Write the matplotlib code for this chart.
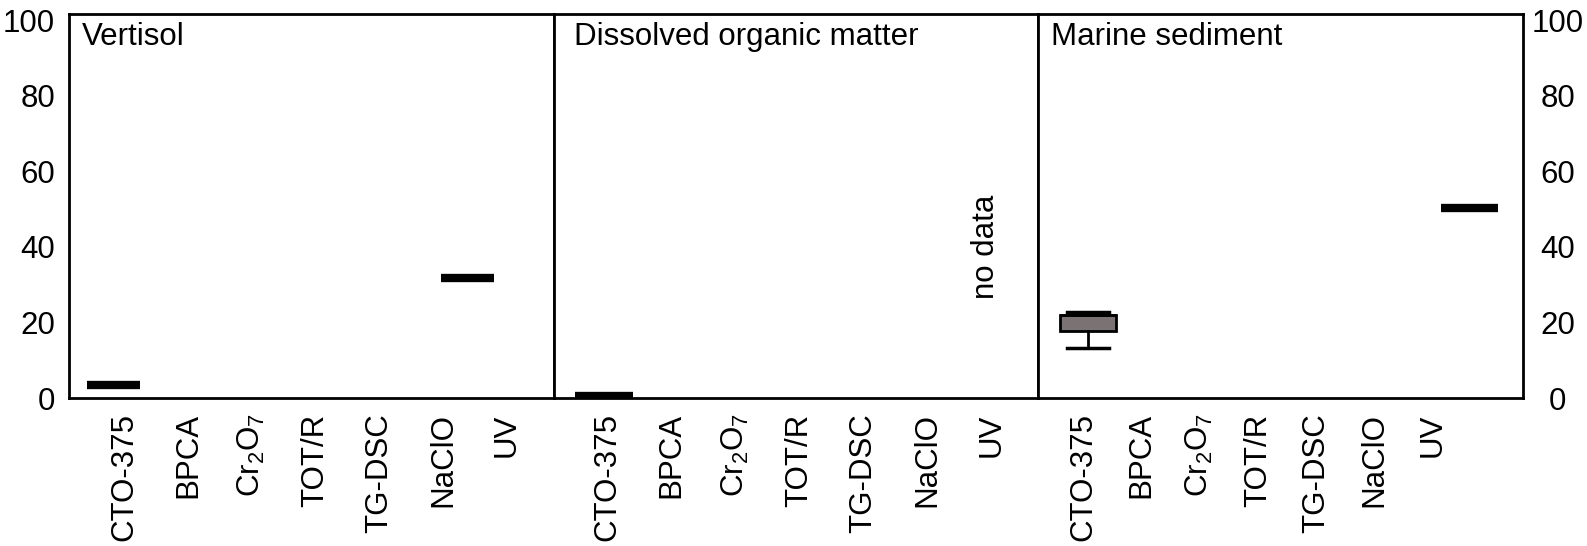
import numpy as np
import matplotlib
matplotlib.use('Agg')
import matplotlib.pyplot as plt

# data (percent)
methods = ['CTO-375', 'BPCA', r'Cr$_2$O$_7$', 'TOT/R', 'TG-DSC', 'NaClO', 'UV']
panels = ['Vertisol', 'Dissolved organic matter', 'Marine sediment']

vertisol = {'CTO-375': 3.4, 'UV': 31.7}
dom = {'CTO-375': 0.4}
marine_uv = 50.3
# marine CTO-375 given as a box: whisker low, q1, median, q3, whisker high
marine_cto_box = [13.2, 17.7, 22.0, 22.0, 22.7]
no_data = {'Dissolved organic matter': 'UV'}

plt.rcParams['font.family'] = ['Liberation Sans', 'DejaVu Sans']
plt.rcParams['mathtext.fontset'] = 'custom'
plt.rcParams['mathtext.rm'] = 'Liberation Sans'
plt.rcParams['mathtext.it'] = 'Liberation Sans'

fs = 22.5

# per panel layout: x limits, first tick position, tick step, title x
layout = [
    dict(xlim=(-0.76, 7.47), t0=0.18, step=1.082, tx=0.027),
    dict(xlim=(-0.79, 6.83), t0=0.05, step=1.007, tx=0.041),
    dict(xlim=(-0.78, 6.84), t0=-0.07, step=0.915, tx=0.027),
]


def main():
    fig, axes = plt.subplots(1, 3, figsize=(15.87, 5.46), dpi=100, sharey=True)
    fig.subplots_adjust(left=69/1587, right=1523/1587, top=1-14/546, bottom=1-398/546, wspace=0)

    xpos = {m: i for i, m in enumerate(methods)}
    series = [vertisol, dom, {'UV': marine_uv}]

    for ax, name, vals, lay in zip(axes, panels, series, layout):
        w = 0.9
        for m, v in vals.items():
            x = xpos[m]
            ax.hlines(v, x - w/2, x + w/2, color='black', lw=6)
        ax.set_xlim(*lay['xlim'])
        ax.set_ylim(0, 101.6)
        ticks = lay['t0'] + lay['step'] * np.arange(len(methods))
        ax.set_xticks(ticks)
        ax.set_xticklabels(methods, rotation=90, fontsize=fs)
        ax.tick_params(axis='x', length=0, pad=11)
        ax.tick_params(axis='y', length=0)
        for s in ax.spines.values():
            s.set_linewidth(2)
        ax.text(lay['tx'], 0.978, name, transform=ax.transAxes, fontsize=fs,
                ha='left', va='top')
        if name in no_data:
            ax.text(xpos[no_data[name]], 40, 'no data', rotation=90, fontsize=fs,
                    ha='center', va='center')

    # marine sediment CTO-375 box
    lo, q1, med, q3, hi = marine_cto_box
    stats = [dict(whislo=lo, q1=q1, med=med, q3=q3, whishi=hi)]
    axes[2].bxp(stats, positions=[xpos['CTO-375']], widths=0.87, patch_artist=True,
                showfliers=False, manage_ticks=False,
                boxprops=dict(facecolor='#7b7373', edgecolor='black', linewidth=2),
                whiskerprops=dict(color='black', linewidth=2),
                capprops=dict(color='black', linewidth=2.5),
                medianprops=dict(color='black', linewidth=2), capwidths=0.65)

    # y labels left on first panel, right on last
    axes[0].set_yticks([0, 20, 40, 60, 80, 100])
    axes[0].tick_params(axis='y', labelsize=fs, pad=10)
    axes[1].tick_params(axis='y', labelleft=False)
    axes[2].tick_params(axis='y', labelleft=False, labelright=True, labelsize=fs, pad=25)
    for lab in axes[2].get_yticklabels():
        lab.set_horizontalalignment('center')

    plt.savefig('out.png', dpi=100)


if __name__ == '__main__':
    main()
